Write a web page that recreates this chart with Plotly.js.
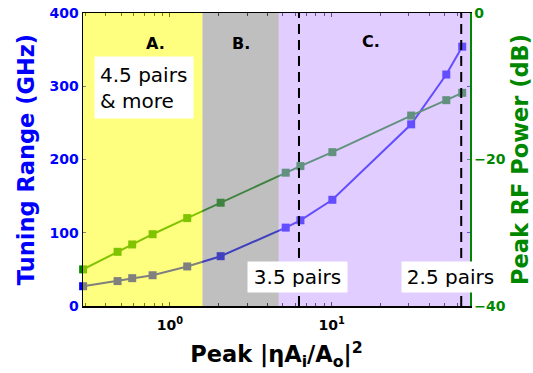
<!DOCTYPE html>
<html><head><meta charset="utf-8">
<script src="https://cdn.plot.ly/plotly-3.0.1.min.js"></script>
<style>html,body{margin:0;padding:0;background:#fff}#chart{width:533px;height:373px}</style>
</head><body><div id="chart"></div>
<script>
// ---- data ----
const peakRatio      = [0.291, 0.475, 0.585, 0.782, 1.28, 2.06, 5.2, 6.41, 10.1, 31.0, 51.1, 64.1];
const tuningRangeGHz = [27, 34, 38, 42, 54, 68, 107, 117, 145, 248, 316, 354];
const peakRFPowerdB  = [-35.0, -32.6, -31.6, -30.2, -28.0, -25.9, -21.8, -20.9, -19.0, -14.0, -11.9, -10.9];
const regionBounds   = [0.2, 1.59, 4.71, 100];
const regionLabels   = ['A.', 'B.', 'C.'];
const regionColors   = ['#ffff00', '#808080', '#c39bff'];
const pairLines      = [6.28, 63.2];
const boxLabels      = ['4.5 pairs<br>& more', '3.5 pairs', '2.5 pairs'];
const xMajorVals     = [1, 10];
const xMajorText     = ['10<sup>0</sup>', '10<sup>1</sup>'];
const xMinorVals     = [0.3,0.4,0.5,0.6,0.7,0.8,0.9,2,3,4,5,6,7,8,9,20,30,40,50,60];
const yLeftTicks     = [0, 100, 200, 300, 400];
const yRightTicks    = [-40, -20, 0];

const BLUE = '#0000ff', GREEN = 'rgb(0,135,0)';
const FONT = 'DejaVu Sans';

const traces = [
  {x: peakRatio, y: tuningRangeGHz, type: 'scatter', mode: 'lines+markers', cliponaxis: false,
   line: {color: BLUE, width: 2}, marker: {symbol: 'square', size: 8, color: BLUE}, yaxis: 'y'},
  {x: peakRatio, y: peakRFPowerdB, type: 'scatter', mode: 'lines+markers', cliponaxis: false,
   line: {color: GREEN, width: 2}, marker: {symbol: 'square', size: 8, color: GREEN}, yaxis: 'y2'}
];

const shapes = [];
for (let i = 0; i < 3; i++) {
  shapes.push({type: 'rect', xref: 'x', yref: 'paper', x0: regionBounds[i], x1: regionBounds[i+1], y0: 0, y1: 1,
    fillcolor: regionColors[i], opacity: 0.5, line: {width: 0}, layer: 'above'});
}
pairLines.forEach(v => shapes.push({type: 'line', xref: 'x', yref: 'paper', x0: v, x1: v, y0: 0, y1: 1,
  line: {color: '#000', width: 2, dash: '10px,6px'}, layer: 'above'}));

const annotations = [];
const regLabelPos = [[0.158, 0.934], [0.408, 0.934], [0.773, 0.941]];
regionLabels.forEach((t, i) => annotations.push({text: '<b>' + t + '</b>', xref: 'paper', yref: 'paper',
  x: regLabelPos[i][0], y: regLabelPos[i][1], showarrow: false, font: {family: FONT, size: 16, color: '#000'}}));
const boxPos = [[0.1576, 0.745, 88, 51], [0.554, 0.100, 89, 20], [0.9496, 0.100, 87, 20]];
boxLabels.forEach((t, i) => annotations.push({text: t, xref: 'paper', yref: 'paper',
  x: boxPos[i][0], y: boxPos[i][1], xanchor: 'center', yanchor: 'middle', showarrow: false,
  width: boxPos[i][2], height: boxPos[i][3], align: i === 0 ? 'left' : 'center', valign: 'middle',
  bgcolor: '#ffffff', borderpad: 5, font: {family: FONT, size: 20, color: '#000'}}));

const layout = {
  width: 533, height: 373,
  margin: {l: 83, r: 63, t: 13, b: 67},
  paper_bgcolor: '#fff', plot_bgcolor: '#fff',
  showlegend: false,
  font: {family: FONT},
  xaxis: {type: 'log', range: [-0.537, 1.855], tickvals: xMajorVals, ticktext: xMajorText,
    ticks: 'inside', ticklen: 4, tickcolor: '#000', showline: true, linecolor: '#000', linewidth: 1.5,
    mirror: 'ticks', showgrid: false, zeroline: false, ticklabelstandoff: 6,
    minor: {tickmode: 'array', tickvals: xMinorVals, ticks: 'inside', ticklen: 3, tickcolor: '#000', showgrid: false},
    tickfont: {family: FONT, size: 14, color: '#000', weight: 'bold'},
    title: {text: '<b>Peak |ηA<sub>i</sub>/A<sub>o</sub>|<sup>2</sup></b>', font: {family: FONT, size: 22.5, color: '#000'}, standoff: 14}},
  yaxis: {range: [0, 400], tickvals: yLeftTicks, ticks: 'inside', ticklen: 3, tickcolor: BLUE,
    showline: true, linecolor: '#000', linewidth: 1.5, mirror: 'ticks', showgrid: false, zeroline: false,
    tickfont: {family: FONT, size: 14, color: BLUE, weight: 'bold'},
    title: {text: '<b>Tuning Range (GHz)</b>', font: {family: FONT, size: 22.5, color: BLUE}, standoff: 8}},
  yaxis2: {overlaying: 'y', side: 'right', range: [-40, 0], tickvals: yRightTicks, ticks: 'inside', ticklen: 3,
    tickcolor: GREEN, showline: true, linecolor: GREEN, linewidth: 1.5, showgrid: false, zeroline: false,
    tickfont: {family: FONT, size: 14, color: GREEN, weight: 'bold'},
    title: {text: '<b>Peak RF Power (dB)</b>', font: {family: FONT, size: 22.5, color: GREEN}, standoff: 8}},
  shapes: shapes,
  annotations: annotations
};

Plotly.newPlot('chart', traces, layout, {displayModeBar: false, staticPlot: true});
</script></body></html>
